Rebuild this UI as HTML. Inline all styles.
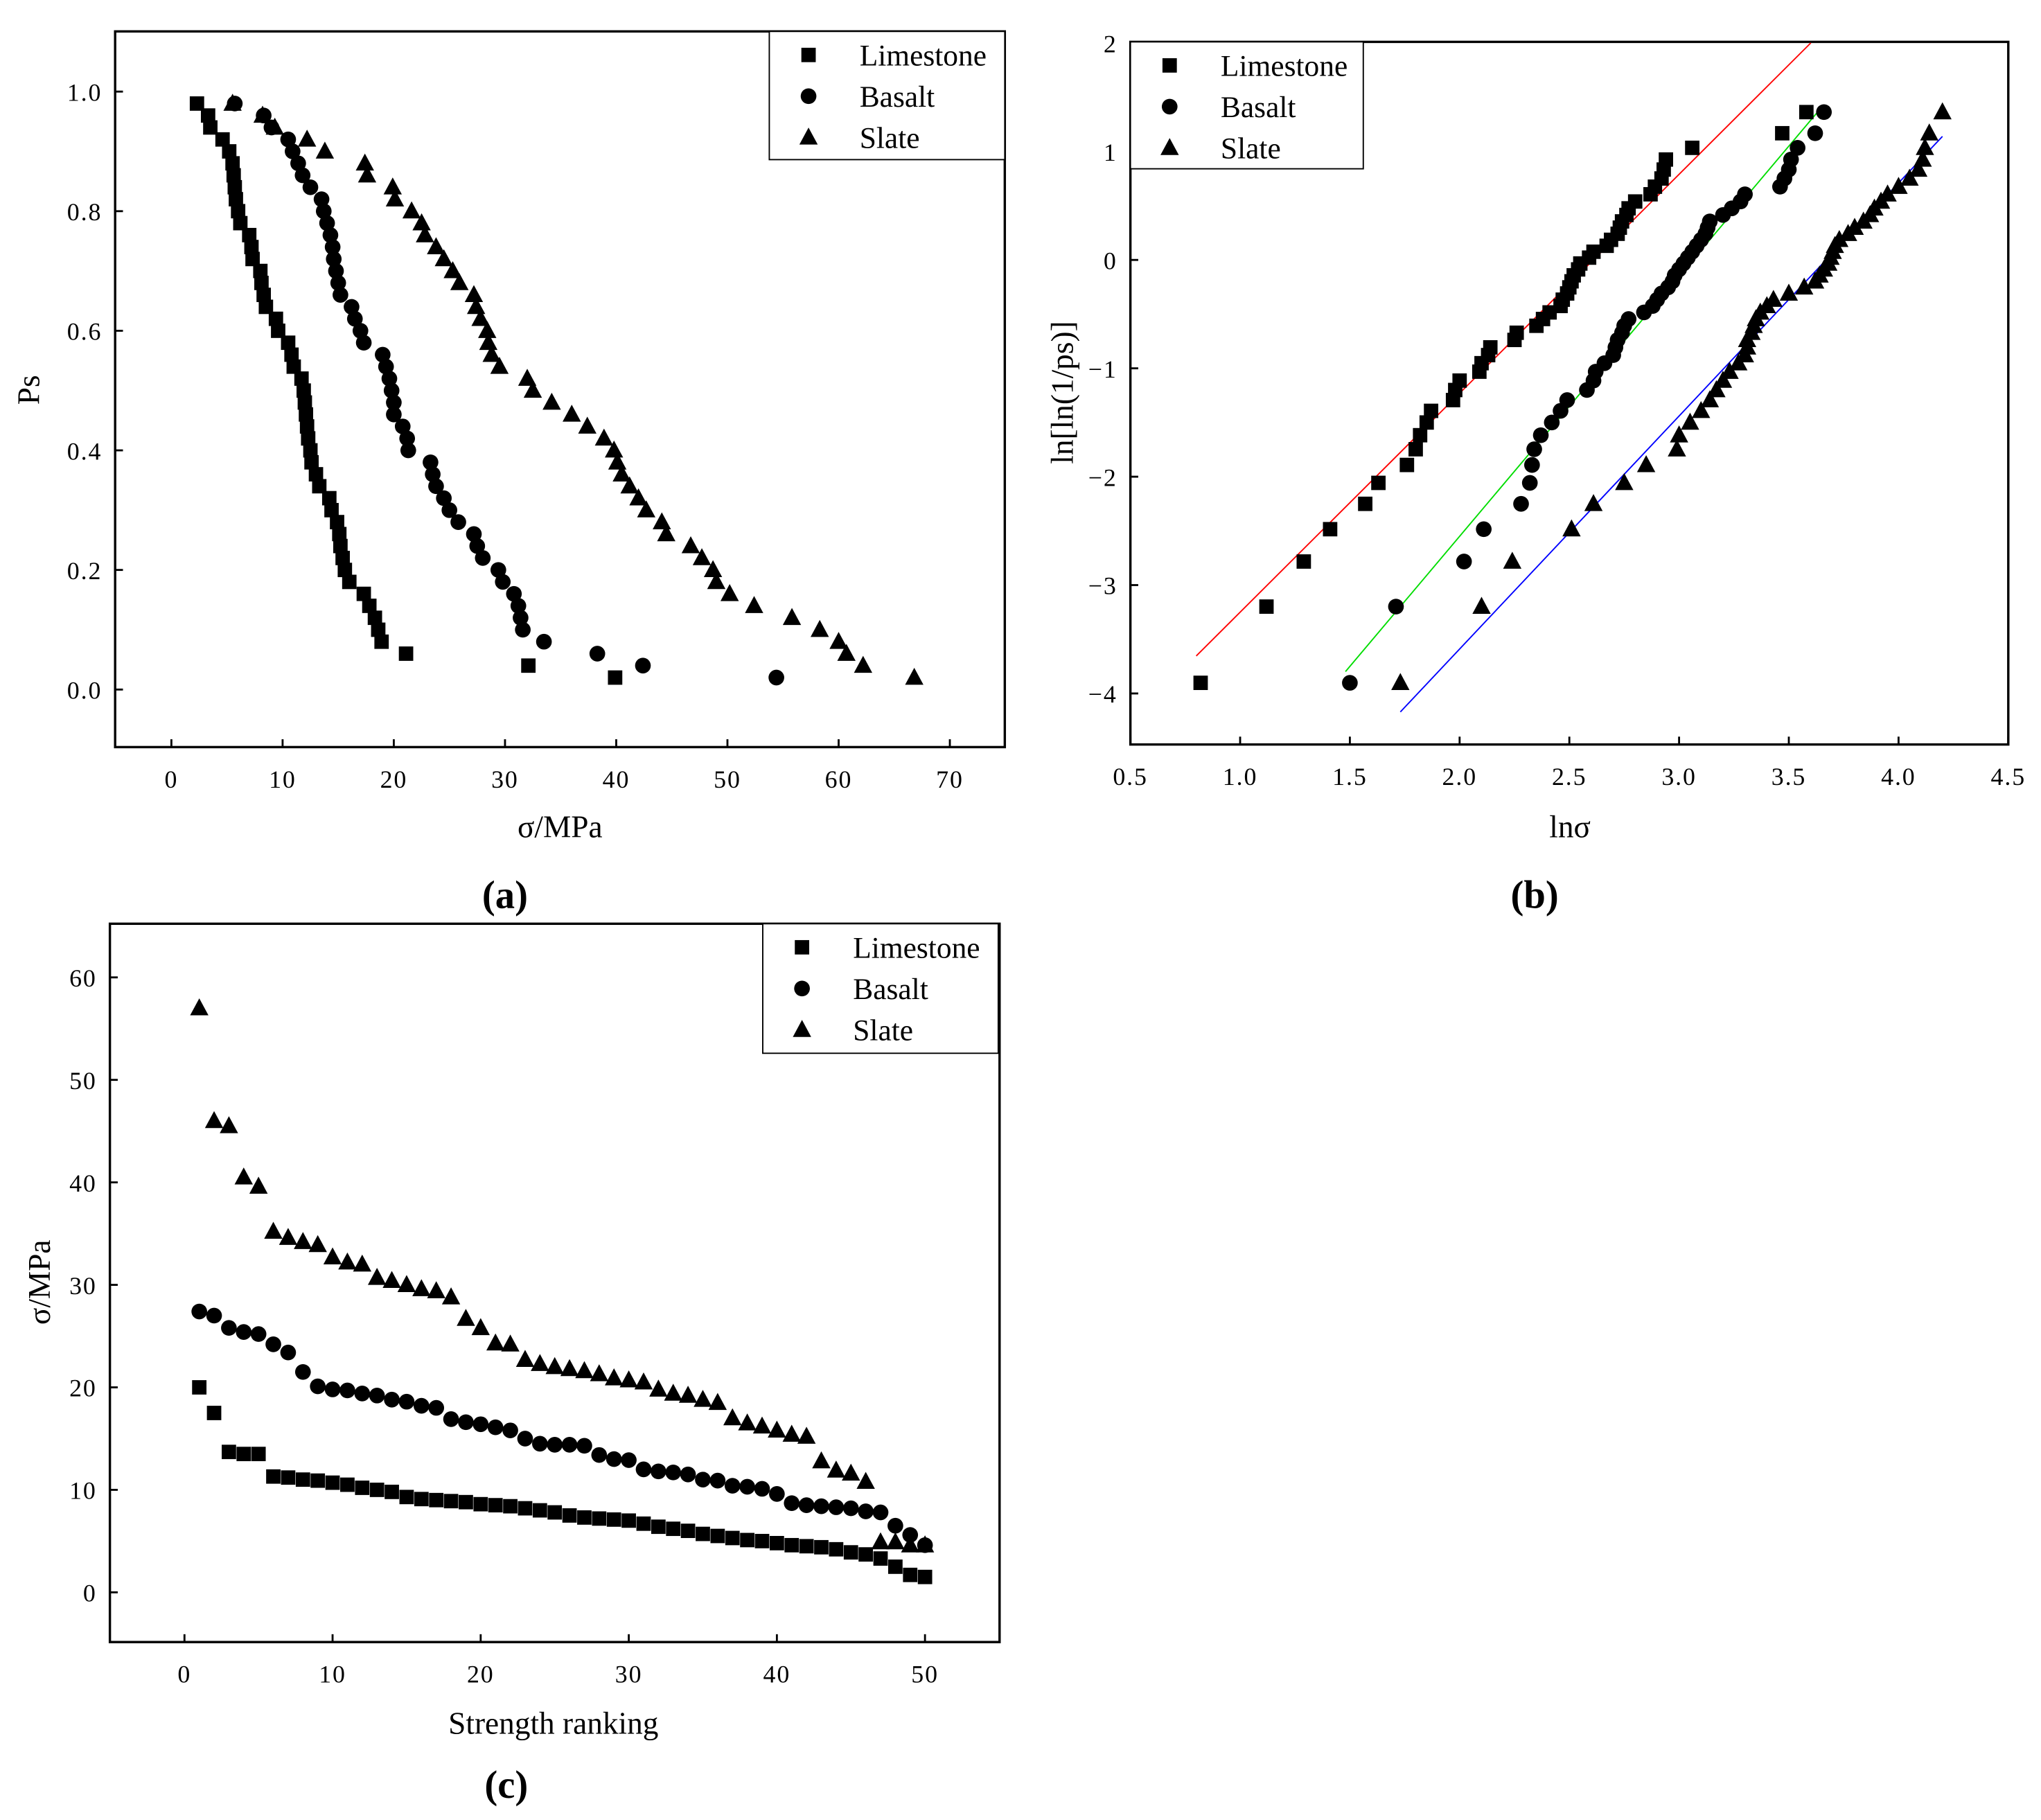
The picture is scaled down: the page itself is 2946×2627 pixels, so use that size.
<!DOCTYPE html>
<html><head><meta charset="utf-8"><style>html,body{margin:0;padding:0;background:#fff}svg{display:block}text{font-family:"Liberation Serif","DejaVu Serif",serif;fill:#000}</style></head>
<body>
<svg id="fig" xmlns="http://www.w3.org/2000/svg" width="2946" height="2627" viewBox="0 0 1560 1391" preserveAspectRatio="none"></svg>
<script>
// ---- Panel (a) data: Ps vs sigma ----
const psValues=[0.98,0.96,0.94,0.92,0.90,0.88,0.86,0.84,0.82,0.80,0.78,0.76,0.74,0.72,0.70,0.68,0.66,0.64,0.62,0.60,0.58,0.56,0.54,0.52,0.50,0.48,0.46,0.44,0.42,0.40,0.38,0.36,0.34,0.32,0.30,0.28,0.26,0.24,0.22,0.20,0.18,0.16,0.14,0.12,0.10,0.08,0.06,0.04,0.02];
const limeSigmaA=[2.3,3.3,3.5,4.6,5.2,5.5,5.6,5.7,5.8,6.0,6.2,7.0,7.2,7.3,8.0,8.1,8.3,8.5,9.4,9.6,10.5,10.8,11.0,11.7,11.9,12.0,12.1,12.2,12.3,12.5,12.6,13.0,13.3,14.2,14.4,14.9,15.1,15.2,15.4,15.6,16.0,17.3,17.8,18.3,18.6,18.9,21.1,32.1,39.9];
const basaltSigmaA=[5.7,8.3,9.0,10.5,10.9,11.4,11.8,12.5,13.5,13.7,14.0,14.3,14.5,14.6,14.8,15.0,15.2,16.2,16.5,17.0,17.3,19.0,19.3,19.6,19.8,20.0,20.0,20.8,21.2,21.3,23.3,23.5,23.8,24.5,25.0,25.8,27.2,27.5,28.0,29.4,29.8,30.8,31.2,31.4,31.6,33.5,38.3,42.4,54.4];
const slateSigmaA=[5.5,8.2,9.3,12.2,13.8,17.4,17.6,19.9,20.1,21.6,22.5,22.8,23.8,24.5,25.3,25.9,27.2,27.4,27.8,28.4,28.5,28.8,29.5,32.0,32.5,34.2,36.0,37.4,38.9,39.8,40.1,40.5,41.2,42.0,42.7,44.1,44.5,46.7,47.7,48.7,49.0,50.2,52.4,55.8,58.3,60.0,60.7,62.2,66.8];
const xTicksA=["0","10","20","30","40","50","60","70"];
const yTicksA=["0.0","0.2","0.4","0.6","0.8","1.0"];
// ---- Panel (b) data: ln(sigma) per Ps rank ----
const limeLnB=[0.82,1.12,1.29,1.41,1.57,1.63,1.76,1.80,1.82,1.85,1.87,1.97,1.98,2.00,2.09,2.10,2.13,2.14,2.25,2.26,2.35,2.38,2.41,2.46,2.47,2.49,2.50,2.51,2.52,2.54,2.55,2.59,2.61,2.67,2.69,2.72,2.73,2.74,2.76,2.77,2.80,2.87,2.89,2.92,2.93,2.94,3.06,3.47,3.58];
const basaltLnB=[1.50,1.71,2.02,2.11,2.28,2.32,2.33,2.34,2.37,2.42,2.46,2.49,2.58,2.61,2.62,2.66,2.70,2.71,2.72,2.74,2.75,2.77,2.84,2.88,2.90,2.92,2.95,2.97,2.98,3.00,3.02,3.04,3.06,3.08,3.10,3.12,3.13,3.14,3.20,3.24,3.28,3.30,3.46,3.48,3.50,3.51,3.54,3.62,3.66];
const slateLnB=[1.73,2.10,2.24,2.51,2.61,2.75,2.85,2.99,3.00,3.05,3.10,3.14,3.17,3.20,3.23,3.27,3.30,3.31,3.31,3.33,3.34,3.35,3.37,3.40,3.43,3.50,3.57,3.62,3.64,3.66,3.68,3.69,3.70,3.71,3.73,3.77,3.80,3.84,3.87,3.89,3.92,3.95,4.00,4.05,4.09,4.11,4.12,4.14,4.20];
// fit lines [slope, intercept, xStart, xEnd]
const fitLime=[2.02,-5.27,0.8,3.6];
const fitBasalt=[2.40,-7.35,1.48,3.65];
const fitSlate=[2.15,-7.89,1.73,4.2];
const xTicksB=["0.5","1.0","1.5","2.0","2.5","3.0","3.5","4.0","4.5"];
const yTicksB=["2","1","0","\u22121","\u22122","\u22123","\u22124"];
// ---- Panel (c) data: sigma vs ranking ----
const limeSigmaC=[20,17.5,13.7,13.5,13.5,11.3,11.2,11.0,10.9,10.7,10.5,10.2,10.0,9.8,9.3,9.1,9.0,8.9,8.8,8.6,8.5,8.4,8.2,8.0,7.8,7.5,7.3,7.2,7.1,7.0,6.7,6.4,6.2,6.0,5.7,5.5,5.3,5.1,5.0,4.8,4.6,4.5,4.4,4.2,3.9,3.7,3.3,2.5,1.7,1.5];
const basaltSigmaC=[27.4,27.0,25.8,25.4,25.2,24.2,23.4,21.5,20.1,19.8,19.7,19.4,19.2,18.8,18.6,18.2,18.0,16.9,16.6,16.4,16.1,15.8,15.0,14.5,14.4,14.4,14.3,13.4,13.0,12.9,12.0,11.8,11.7,11.5,11.0,10.9,10.4,10.3,10.1,9.6,8.7,8.5,8.4,8.3,8.2,7.9,7.8,6.5,5.6,4.6];
const slateSigmaC=[57,46,45.5,40.5,39.6,35.2,34.6,34.2,33.9,32.7,32.2,32.0,30.7,30.4,30.0,29.6,29.4,28.8,26.7,25.8,24.3,24.2,22.7,22.3,22.0,21.8,21.6,21.3,20.9,20.7,20.5,19.8,19.4,19.2,18.8,18.5,17.0,16.5,16.2,15.8,15.4,15.2,12.8,11.9,11.6,10.8,4.9,4.9,4.6,4.6];
const xTicksC=["0","10","20","30","40","50"];
const yTicksC=["0","10","20","30","40","50","60"];

const NS="http://www.w3.org/2000/svg";
const svg=document.getElementById('fig');
function mk(tag,attrs,parent){const e=document.createElementNS(NS,tag);for(const k in attrs)e.setAttribute(k,attrs[k]);(parent||svg).appendChild(e);return e;}
function lin(d0,d1,r0,r1){return v=>r0+(v-d0)*(r1-r0)/(d1-d0);}
function marker(g,shape,x,y){
  let e;
  if(shape==='sq'){e=mk('rect',{x:x-5.5,y:y-5.5,width:11,height:11,fill:'#000'},g);}
  else if(shape==='ci'){e=mk('circle',{cx:x,cy:y,r:6,fill:'#000'},g);}
  else {e=mk('polygon',{points:(x)+','+(y-7.5)+' '+(x-7)+','+(y+5.5)+' '+(x+7)+','+(y+5.5),fill:'#000'},g);}
  
  
}
function frame(name,x0,y0,x1,y1){
  const g=mk('g',{});
  
  
  const r=mk('rect',{x:x0,y:y0,width:x1-x0,height:y1-y0,fill:'none',stroke:'#000','stroke-width':1.8},g);
  
  
  return g;
}
function legend(g,x0,y0,x1,y1){
  const lg=mk('g',{},g);
  
  
  mk('rect',{x:x0,y:y0,width:x1-x0,height:y1-y0,fill:'#fff',stroke:'#000','stroke-width':1},lg);
  const names=['Limestone','Basalt','Slate'],sh=['sq','ci','tr'];
  for(let i=0;i<3;i++){
    const yy=y0+18+i*31.5;
    marker(lg,sh[i],x0+30,yy);
    const t=mk('text',{x:x0+69,y:yy+8,'font-size':23},lg);t.textContent=names[i];
    
    
  }
}
function text(g,x,y,s,size,anchor,name,extra){
  const t=mk('text',Object.assign({x:x,y:y,'font-size':size,'text-anchor':anchor||'middle'},extra||{}),g);
  t.textContent=s;
  
  
  return t;
}
function axes(g,X,Y,x0,y0,x1,y1,xt,yt){
  xt.forEach(s=>{const v=parseFloat(s.replace('\u2212','-'));const px=X(v);
    mk('line',{x1:px,y1:y1,x2:px,y2:y1-6,stroke:'#000','stroke-width':1.5},g);
    text(g,px,y1+31,s,19,'middle','x-tick-label',{'letter-spacing':'1'});});
  yt.forEach(s=>{const v=parseFloat(s.replace('\u2212','-'));const py=Y(v);
    mk('line',{x1:x0,y1:py,x2:x0+6,y2:py,stroke:'#000','stroke-width':1.5},g);
    text(g,x0-10,py+7,s,19,'end','y-tick-label',{'letter-spacing':'1'});});
}
// Panel A
(function(){
  const x0=88,y0=24,x1=768,y1=571;
  const X=lin(0,70,131,726),Y=lin(0,1,527,70);
  const g=frame('panel-a',x0,y0,x1,y1);
  axes(g,X,Y,x0,y0,x1,y1,xTicksA,yTicksA);
  [[limeSigmaA,'sq'],[basaltSigmaA,'ci'],[slateSigmaA,'tr']].forEach(([arr,s])=>arr.forEach((v,i)=>marker(g,s,X(v),Y(psValues[i]))));
  legend(g,588,24,768,122);
  text(g,428,640,'σ/MPa',24,'middle','x-axis-title');
  text(g,0,0,'Ps',24,'middle','y-axis-title',{transform:'translate(30,298) rotate(-90)'});
  text(g,386,694,'(a)',30,'middle','panel-label',{'font-weight':'bold'});
})();
// Panel B
(function(){
  const x0=864,y0=32,x1=1535,y1=569;
  const X=lin(0.5,4.5,864,1535),Y=lin(-4,2,530,33);
  const g=frame('panel-b',x0,y0,x1,y1);
  axes(g,X,Y,x0,y0,x1,y1,xTicksB,yTicksB);
  const clip=mk('clipPath',{id:'cb'},g);mk('rect',{x:x0,y:y0,width:x1-x0,height:y1-y0},clip);
  [[fitLime,'#ff0000','fit-line-limestone'],[fitBasalt,'#00dd00','fit-line-basalt'],[fitSlate,'#0000ff','fit-line-slate']].forEach(([f,c,n])=>{
    const l=mk('line',{x1:X(f[2]),y1:Y(f[0]*f[2]+f[1]),x2:X(f[3]),y2:Y(f[0]*f[3]+f[1]),stroke:c,'stroke-width':1,'clip-path':'url(#cb)'},g);
    
    
  });
  [[limeLnB,'sq'],[basaltLnB,'ci'],[slateLnB,'tr']].forEach(([arr,s])=>arr.forEach((v,i)=>marker(g,s,X(v),Y(Math.log(Math.log(1/psValues[i]))))));
  legend(g,864,32,1042,129);
  text(g,1200,640,'lnσ',24,'middle','x-axis-title');
  text(g,0,0,'ln[ln(1/ps)]',24,'middle','y-axis-title',{transform:'translate(820,300) rotate(-90)'});
  text(g,1173,694,'(b)',30,'middle','panel-label',{'font-weight':'bold'});
})();
// Panel C
(function(){
  const x0=84,y0=706,x1=764,y1=1255;
  const X=lin(0,50,141,707),Y=lin(0,60,1217,747);
  const g=frame('panel-c',x0,y0,x1,y1);
  axes(g,X,Y,x0,y0,x1,y1,xTicksC,yTicksC);
  [[limeSigmaC,'sq'],[basaltSigmaC,'ci'],[slateSigmaC,'tr']].forEach(([arr,s])=>arr.forEach((v,i)=>marker(g,s,X(i+1),Y(v))));
  legend(g,583,706,763,805);
  text(g,423,1325,'Strength ranking',24,'middle','x-axis-title');
  text(g,0,0,'σ/MPa',24,'middle','y-axis-title',{transform:'translate(38,980) rotate(-90)'});
  text(g,387,1374,'(c)',30,'middle','panel-label',{'font-weight':'bold'});
})();
</script>
</body></html>
